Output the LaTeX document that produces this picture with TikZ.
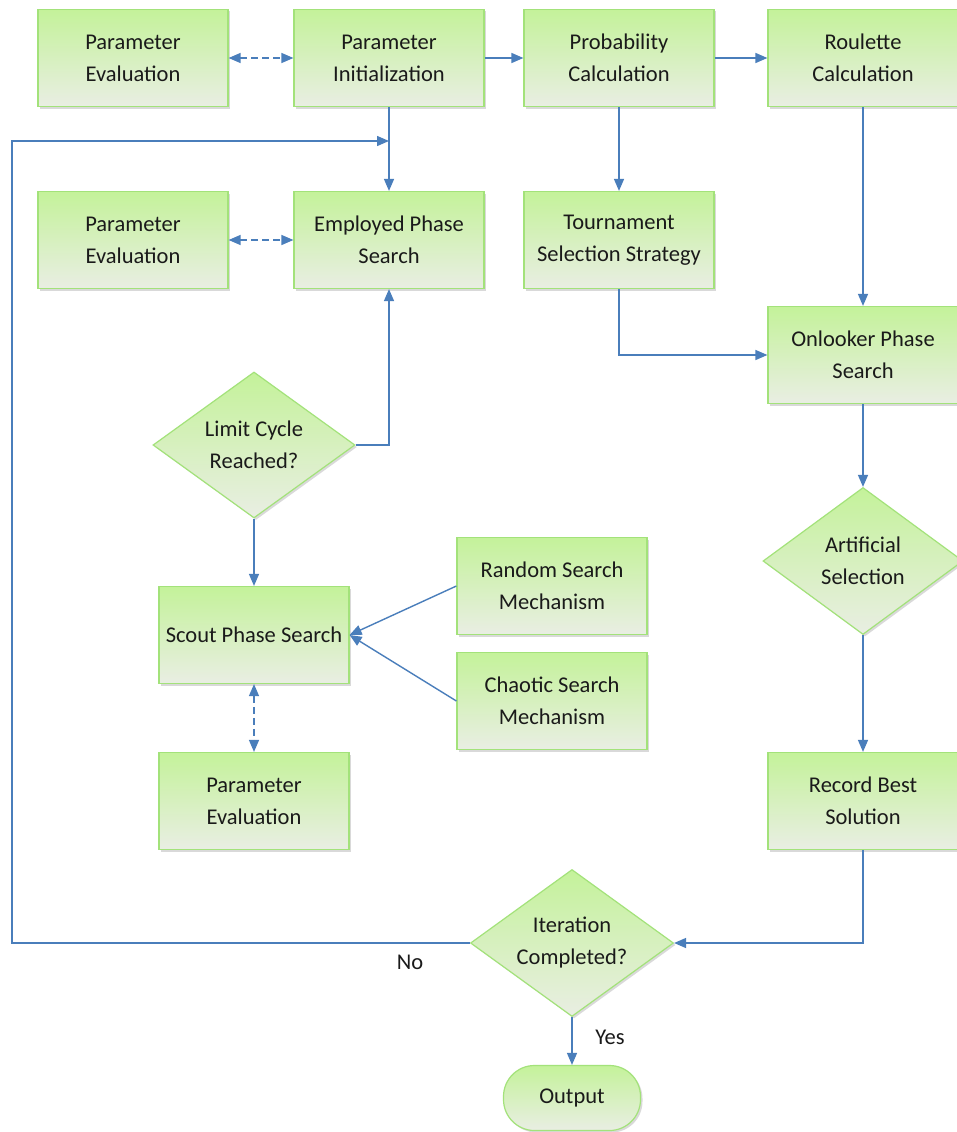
\documentclass[tikz,border=0pt]{standalone}
\usepackage{fontspec}
\setmainfont{Carlito}
\usetikzlibrary{arrows.meta,shapes.geometric,shadows}
\definecolor{lineblue}{HTML}{4A7EBB}
\definecolor{gtop}{HTML}{C4F29A}
\definecolor{gbot}{HTML}{E9EEE3}
\definecolor{gborder}{HTML}{A3E27A}
\definecolor{txt}{HTML}{1A1A1A}
\begin{document}
\begin{tikzpicture}[x=1pt,y=-1pt,
  box/.style={rectangle, draw=gborder, line width=1.2pt, top color=gtop, bottom color=gbot,
    minimum width=190pt, minimum height=97pt, align=center, text=txt,
    font=\fontsize{22.5}{32}\selectfont, inner sep=2pt,
    drop shadow={shadow xshift=2pt, shadow yshift=-2pt, fill=black, opacity=0.15}},
  dec/.style={box, diamond, minimum width=202pt, minimum height=146pt, inner sep=0pt, aspect=1.38},
  term/.style={box, rounded corners=31pt, minimum width=137pt, minimum height=65pt},
  flow/.style={draw=lineblue, line width=1.4pt, -{Triangle[length=12pt,width=10pt]}},
  dflow/.style={draw=lineblue, line width=1.4pt, {Triangle[length=12pt,width=10pt]}-{Triangle[length=12pt,width=10pt]}, dash pattern=on 7pt off 4pt},
  lbl/.style={text=txt, font=\fontsize{22.5}{32}\selectfont, inner sep=0pt}]
\useasboundingbox (0,0) rectangle (956,1132);
\fill[white] (0,0) rectangle (956,1132);

\node[box] (pe1) at (133,58) {Parameter\\Evaluation};
\node[box] (pi) at (389,58) {Parameter\\Initialization};
\node[box] (prob) at (619,58) {Probability\\Calculation};
\node[box] (roul) at (863,58) {Roulette\\Calculation};
\node[box] (pe2) at (133,240) {Parameter\\Evaluation};
\node[box] (emp) at (389,240) {Employed Phase\\Search};
\node[box] (tour) at (619,240) {Tournament\\Selection Strategy};
\node[box] (onl) at (863,355) {Onlooker Phase\\Search};
\node[dec] (lim) at (254,445) {Limit Cycle\\Reached?};
\node[box] (scout) at (254,635) {Scout Phase Search};
\node[box] (rand) at (552,586) {Random Search\\Mechanism};
\node[box] (chao) at (552,701) {Chaotic Search\\Mechanism};
\node[box] (pe3) at (254,801) {Parameter\\Evaluation};
\node[dec, minimum width=200pt, minimum height=147pt] (art) at (863,561) {Artificial\\Selection};
\node[box] (rec) at (863,801) {Record Best\\Solution};
\node[dec, minimum width=203pt, minimum height=147pt] (iter) at (572,943) {Iteration\\Completed?};
\node[term] (out) at (572,1098) {Output};

\coordinate (fbl) at (12,943);
\coordinate (fbt) at (12,141);
\coordinate (join) at (389,141);

\draw[dflow] (pe1) -- (pi);
\draw[flow] (pi) -- (prob);
\draw[flow] (prob) -- (roul);
\draw[flow] (pi) -- (emp);
\draw[dflow] (pe2) -- (emp);
\draw[flow] (prob) -- (tour);
\draw[flow] (tour.south) |- (onl.west);
\draw[flow] (roul) -- (onl);
\draw[flow] (lim.east) -| (emp.south);
\draw[flow] (lim) -- (scout);
\draw[flow] (rand.west) -- (scout.east);
\draw[flow] (chao.west) -- (scout.east);
\draw[dflow] (scout) -- (pe3);
\draw[flow] (onl) -- (art);
\draw[flow] (art) -- (rec);
\draw[flow] (rec.south) |- (iter.east);
\draw[flow] (iter.west) -- (fbl) -- (fbt) -- (join);
\draw[flow] (iter) -- (out);

\node[lbl] (no) at (410,962) {No};
\node[lbl] (yes) at (610,1037) {Yes};
\end{tikzpicture}
\end{document}
